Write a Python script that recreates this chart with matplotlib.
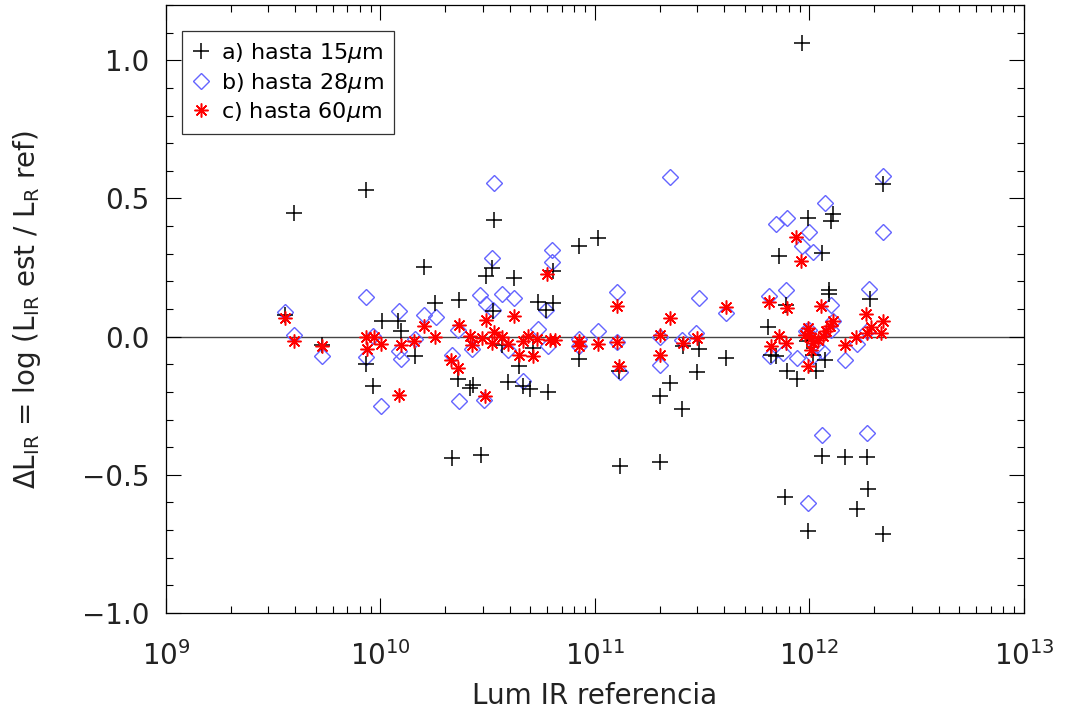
import matplotlib
matplotlib.use("Agg")
import matplotlib.pyplot as plt
from matplotlib.ticker import LogLocator, MultipleLocator, FixedLocator

# a) hasta 15 micras
lum_a = [3.59e9, 3.95e9, 8.55e9, 8.6e9, 9.25e9, 1.02e10, 1.21e10, 1.25e10, 1.45e10, 1.60e10,
         1.80e10, 2.15e10, 2.29e10, 2.33e10, 2.61e10, 2.71e10, 2.94e10, 3.09e10, 3.32e10, 3.36e10,
         3.40e10, 3.70e10, 3.95e10, 4.21e10, 4.44e10, 4.63e10, 4.98e10, 5.15e10, 5.44e10, 5.9e10,
         6.06e10, 6.39e10, 6.39e10, 5.33e9,
         8.45e10, 1.03e11, 8.45e10, 1.29e11, 1.31e11, 2.0e11, 2.24e11, 2.54e11, 2.0e11, 2.58e11,
         3.06e11, 2.98e11, 4.08e11,
         9.87e11, 1.29e12, 1.26e12, 7.21e11, 1.14e12, 1.23e12, 1.23e12, 7.76e11, 1.91e12, 6.43e11,
         6.59e11, 7.0e11, 7.82e11, 8.71e11, 1.07e12, 1.18e12, 1.04e12, 9.7e11, 9.2e11, 2.21e12,
         1.14e12, 1.47e12, 1.85e12, 1.88e12, 7.69e11, 9.87e11, 1.66e12, 2.21e12]
dl_a = [0.08, 0.449, 0.529, -0.10, -0.178, 0.058, 0.058, 0.02, -0.071, 0.251,
        0.12, -0.44, -0.153, 0.131, -0.186, -0.174, -0.427, 0.218, 0.249, 0.092,
        0.423, -0.029, -0.165, 0.211, -0.107, -0.18, -0.19, -0.041, 0.124, 0.098,
        -0.20, 0.237, 0.122, -0.029,
        0.327, 0.358, -0.081, -0.126, -0.467, -0.214, -0.168, -0.262, -0.455, -0.035,
        -0.045, -0.129, -0.077,
        0.43, 0.442, 0.418, 0.291, 0.303, 0.17, 0.156, 0.116, 0.137, 0.035,
        -0.065, -0.071, -0.126, -0.153, -0.126, -0.083, -0.065, -0.017, 1.064, 0.551,
        -0.431, -0.436, -0.437, -0.552, -0.581, -0.705, -0.625, -0.715]

# b) hasta 28 micras
lum_b = [3.59e9, 3.95e9, 5.36e9, 8.55e9, 9.25e9, 8.6e9, 1.01e10, 1.22e10, 1.22e10, 1.25e10,
         1.45e10, 1.60e10, 1.81e10, 2.15e10, 2.33e10, 2.29e10, 2.67e10, 2.92e10, 3.09e10, 3.31e10,
         3.40e10, 3.70e10, 4.21e10, 3.05e10, 3.95e10, 4.63e10, 5.44e10, 5.9e10, 6.33e10, 6.33e10,
         6.06e10, 3.36e10,
         2.24e11, 1.27e11, 3.06e11, 4.08e11, 1.03e11, 8.45e10, 8.45e10, 1.27e11, 1.31e11, 2.0e11,
         2.0e11, 2.54e11, 2.97e11,
         1.18e12, 6.98e11, 7.82e11, 9.97e11, 9.2e11, 1.04e12, 2.21e12, 6.5e11, 7.76e11, 1.26e12,
         1.9e12, 1.0e12, 1.29e12, 1.26e12, 1.85e12, 1.66e12, 6.55e11, 7.54e11, 8.71e11, 1.47e12,
         1.14e12, 1.07e12, 1.04e12, 9.6e11, 2.21e12, 1.14e12, 1.85e12, 9.87e11]
dl_b = [0.088, 0.007, -0.069, 0.142, 0.001, -0.074, -0.25, 0.092, -0.053, -0.081,
        -0.008, 0.077, 0.07, -0.068, -0.232, 0.025, -0.045, 0.15, 0.118, 0.283,
        0.557, 0.156, 0.138, -0.228, -0.047, -0.159, 0.029, 0.098, 0.315, 0.269,
        -0.035, 0.098,
        0.577, 0.161, 0.14, 0.086, 0.022, -0.007, -0.035, -0.019, -0.129, 0.0,
        -0.101, -0.011, 0.013,
        0.482, 0.408, 0.43, 0.378, 0.327, 0.305, 0.379, 0.146, 0.17, 0.116,
        0.173, 0.025, 0.055, 0.025, 0.019, -0.025, -0.071, -0.059, -0.077, -0.086,
        -0.053, -0.035, -0.071, 0.019, 0.583, -0.355, -0.349, -0.603]

# c) hasta 60 micras
lum_c = [3.57e9, 3.95e9, 5.33e9, 8.55e9, 8.65e9, 9.35e9, 1.01e10, 1.22e10, 1.25e10, 1.43e10,
         1.60e10, 1.80e10, 2.33e10, 2.61e10, 2.67e10, 2.97e10, 3.11e10, 3.3e10, 3.40e10, 3.67e10,
         3.95e10, 4.21e10, 4.44e10, 4.63e10, 4.87e10, 5.15e10, 5.35e10, 6.18e10, 6.5e10, 2.13e10,
         2.3e10, 3.06e10, 5.98e10,
         8.45e10, 8.45e10, 1.03e11, 1.27e11, 1.27e11, 1.29e11, 2.0e11, 2.0e11, 2.24e11, 2.58e11,
         2.98e11, 4.08e11,
         8.65e11, 9.12e11, 6.46e11, 7.82e11, 1.13e12, 1.83e12, 2.19e12, 1.93e12, 2.15e12, 1.85e12,
         1.65e12, 1.47e12, 7.2e11, 7.76e11, 6.6e11, 9.87e11, 9.87e11, 1.0e12, 1.02e12, 1.04e12,
         1.02e12, 1.10e12, 1.16e12, 1.20e12, 1.25e12, 1.29e12, 9.5e11]
dl_c = [0.068, -0.015, -0.033, -0.001, -0.043, -0.001, -0.025, -0.21, -0.031, -0.017,
        0.037, -0.002, 0.041, 0.004, -0.029, -0.005, 0.059, -0.023, 0.016, -0.001,
        -0.026, 0.076, -0.065, -0.017, 0.001, -0.069, -0.008, -0.013, -0.013, -0.083,
        -0.113, -0.214, 0.228,
        -0.017, -0.035, -0.027, 0.112, -0.019, -0.107, 0.007, -0.065, 0.068, -0.023,
        -0.005, 0.106,
        0.361, 0.273, 0.124, 0.104, 0.112, 0.083, 0.058, 0.035, 0.013, 0.013,
        -0.001, -0.031, 0.001, -0.023, -0.035, -0.107, 0.031, 0.013, -0.005, -0.023,
        -0.047, -0.011, 0.001, 0.019, 0.037, 0.055, 0.005]

plt.rcParams['font.family'] = ['DejaVu Sans']
plt.rcParams['mathtext.fontset'] = 'dejavusans'

fig = plt.figure(figsize=(10.68, 7.14), dpi=100)
ax = fig.add_axes([0.1554, 0.1415, 0.8034, 0.8515])

ax.axhline(0, color='#444444', lw=1.0, zorder=1)

ax.plot(lum_a, dl_a, ls='none', marker='+', ms=11, mew=1.1, color='black',
        label=r'a) hasta 15$\mu$m', zorder=3)
ax.plot(lum_b, dl_b, ls='none', marker='D', ms=8, mew=1.0, mfc='none', mec='#6464ff',
        label=r'b) hasta 28$\mu$m', zorder=2)
ax.plot(lum_c, dl_c, ls='none', marker=(8, 2, 0), ms=10, mew=1.1, color='red',
        label=r'c) hasta 60$\mu$m', zorder=4)

ax.set_xscale('log')
ax.set_xlim(1e9, 1e13)
ax.set_ylim(-1.0, 1.2)
ax.yaxis.set_major_locator(FixedLocator([-1.0, -0.5, 0.0, 0.5, 1.0]))
ax.yaxis.set_minor_locator(MultipleLocator(0.1))
ax.set_yticklabels(['\u22121.0', '\u22120.5', '0.0', '0.5', '1.0'])
ax.xaxis.set_major_locator(LogLocator(base=10, numticks=10))
ax.xaxis.set_minor_locator(LogLocator(base=10, subs=range(2, 10), numticks=20))

ax.tick_params(which='both', direction='in', top=True, right=True, labelsize=20,
               color='black', width=0.8, labelcolor='#222222')
ax.tick_params(which='major', length=11)
ax.tick_params(which='minor', length=5)
ax.tick_params(axis='y', which='major', pad=12)
ax.tick_params(axis='x', which='major', pad=20)
for s in ax.spines.values():
    s.set_linewidth(0.9)

ax.set_xlabel('Lum IR referencia', fontsize=20, color='#222222', labelpad=8)
ax.set_ylabel(r'$\Delta$L$_{\rm IR}$ = log (L$_{\rm IR}$ est / L$_{\rm R}$ ref)',
              fontsize=20, color='#222222', labelpad=28)

leg = ax.legend(loc='upper left', bbox_to_anchor=(0.019, 0.957), fontsize=16,
                frameon=True, fancybox=False, edgecolor='black', handlelength=0.8,
                handletextpad=0.5, borderpad=0.45, labelspacing=0.25, borderaxespad=0)
leg.get_frame().set_linewidth(0.9)

fig.savefig('out.png', dpi=100)
